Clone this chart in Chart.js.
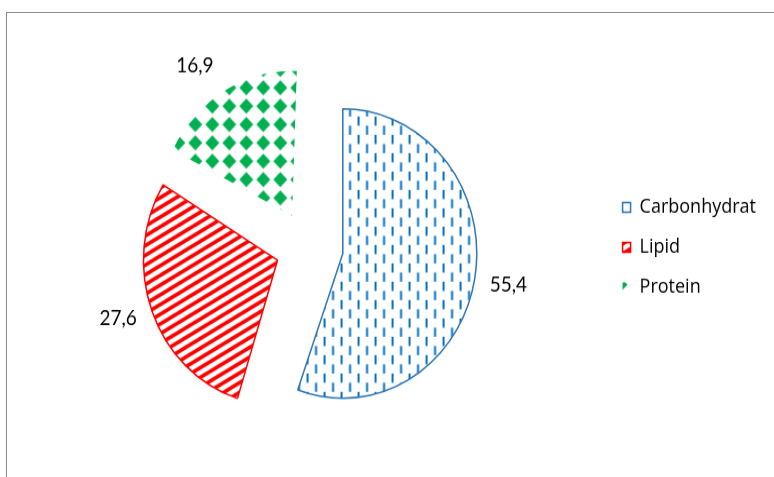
<!DOCTYPE html>
<html>
<head>
<meta charset="utf-8">
<script src="https://cdn.jsdelivr.net/npm/chart.js@4"></script>
<style>
  html, body { margin: 0; padding: 0; background: #fff; }
  #frame { position: absolute; left: 6px; top: 12px; width: 800px; height: 500px;
           border-top: 1px solid #8a8a8a; border-left: 1px solid #8a8a8a; }
  #wrap { position: absolute; left: 0; top: 0; width: 774px; height: 442px;
          transform: scaleY(1.08); transform-origin: 0 0; }
</style>
</head>
<body>
<div id="frame"></div>
<div id="wrap"><canvas id="pie" width="774" height="442"></canvas></div>
<script>
// số liệu
const categories = ['Carbonhydrat', 'Lipid', 'Protein'];
const values = [55.4, 27.6, 16.9];

const canvas = document.getElementById('pie');
const ctx = canvas.getContext('2d');

// tạo hoa văn tô
function makePattern(w, h, draw) {
  const tile = document.createElement('canvas');
  tile.width = w;
  tile.height = h;
  const g = tile.getContext('2d');
  g.fillStyle = '#fff';
  g.fillRect(0, 0, w, h);
  draw(g, w, h);
  return ctx.createPattern(tile, 'repeat');
}

const dashPattern = makePattern(17, 17, (g) => {
  g.fillStyle = '#0070C0';
  g.fillRect(1, 0, 2, 8.5);
  g.fillRect(9.5, 8.5, 2, 8.5);
});

const stripePattern = makePattern(16, 9, (g, w, h) => {
  g.strokeStyle = '#FF0000';
  g.lineWidth = 3.6;
  for (let k = 0; k <= 2; k++) {
    g.beginPath();
    g.moveTo(-2, k * h + 2 * h / w);
    g.lineTo(w + 2, k * h - (w + 2) * h / w);
    g.stroke();
  }
});

const diamondPattern = makePattern(17, 17, (g) => {
  g.fillStyle = '#00B050';
  g.beginPath();
  g.moveTo(8.5, 1.5);
  g.lineTo(15.5, 8.5);
  g.lineTo(8.5, 15.5);
  g.lineTo(1.5, 8.5);
  g.closePath();
  g.fill();
});

const RADIUS = 134;
const EXPLODE = 34;
const LABEL_GAP = 32;
const labelNudge = [[2, 1], [-4, -5], [-13, 4]];

// Chart.js v4 phóng to cung khi có offset -> bù lại để bán kính và góc đúng
const explodeFix = {
  id: 'explodeFix',
  afterDatasetUpdate(chart, args) {
    args.meta.data.forEach((arc) => {
      const off = (arc.options.offset || 0) / 4;
      const fix = 1 - Math.sin(Math.min(Math.PI, arc.circumference));
      arc.outerRadius = RADIUS - off * fix;
      const ao = off / Math.PI / RADIUS / 2;
      arc.startAngle -= ao;
      arc.endAngle += ao;
    });
  }
};

const valueLabels = {
  id: 'valueLabels',
  afterDatasetsDraw(chart) {
    const c = chart.ctx;
    c.save();
    c.font = '19px Lato';
    c.fillStyle = '#000';
    c.textAlign = 'center';
    c.textBaseline = 'middle';
    chart.getDatasetMeta(0).data.forEach((arc, i) => {
      const mid = (arc.startAngle + arc.endAngle) / 2;
      const d = EXPLODE + RADIUS + LABEL_GAP;
      const x = arc.x + Math.cos(mid) * d + labelNudge[i][0];
      const y = arc.y + Math.sin(mid) * d + labelNudge[i][1];
      c.fillText(String(values[i]).replace('.', ','), x, y);
    });
    c.restore();
  }
};

new Chart(ctx, {
  type: 'pie',
  data: {
    labels: categories,
    datasets: [{
      data: values,
      backgroundColor: [dashPattern, stripePattern, diamondPattern],
      borderColor: ['#2E75B6', '#FF0000', '#00B050'],
      borderWidth: [1.5, 1.5, 0],
      offset: EXPLODE * 4
    }]
  },
  options: {
    responsive: false,
    animation: false,
    radius: RADIUS,
    layout: { padding: { top: 16, bottom: 0, left: 15, right: 8 } },
    plugins: {
      legend: {
        position: 'right',
        labels: {
          boxWidth: 8,
          boxHeight: 9,
          padding: 19,
          color: '#000',
          font: { family: 'Open Sans', size: 18 }
        }
      },
      tooltip: { enabled: false }
    }
  },
  plugins: [explodeFix, valueLabels]
});
</script>
</body>
</html>
